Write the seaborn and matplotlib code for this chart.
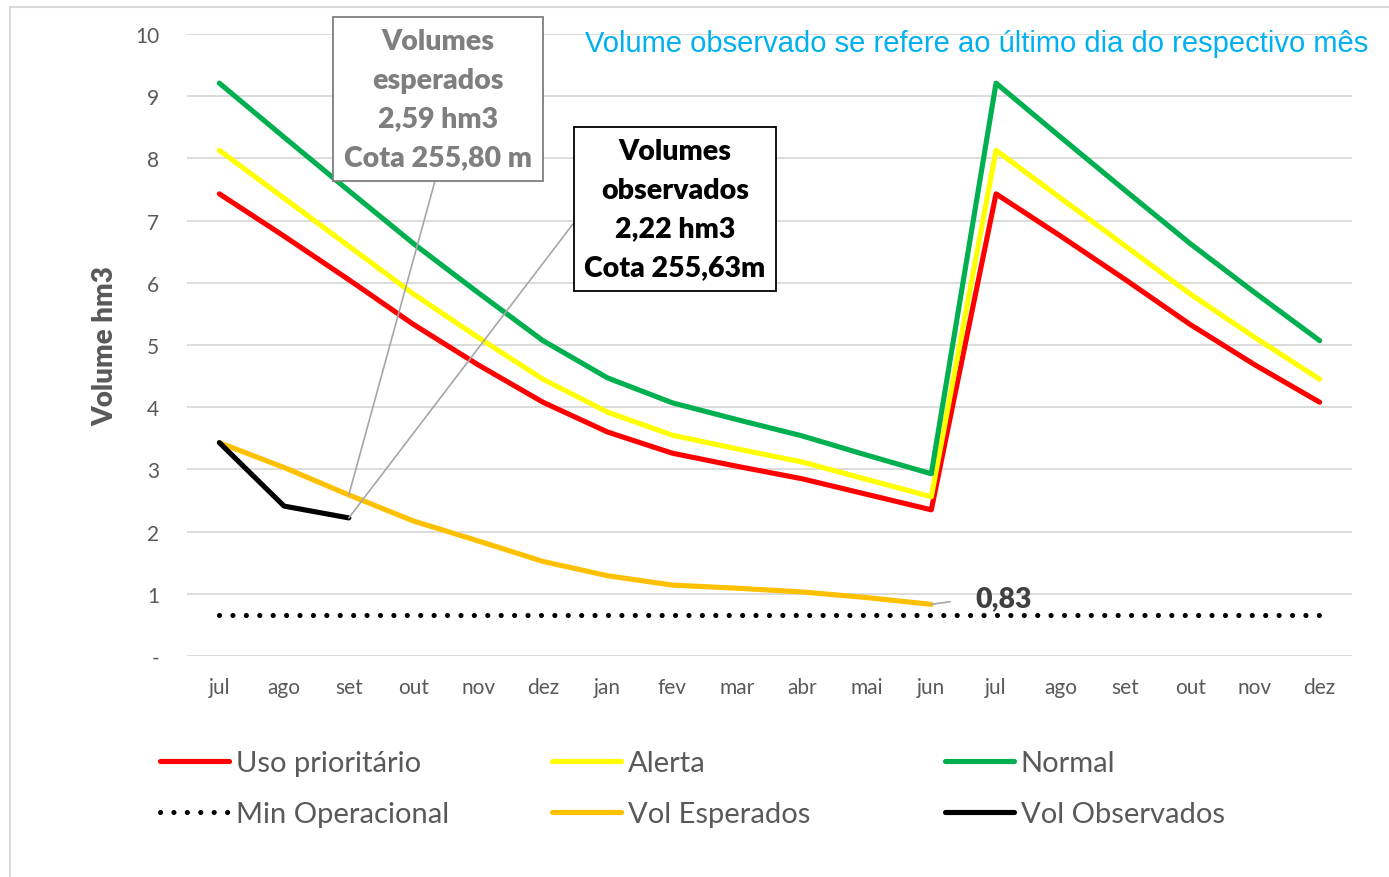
import matplotlib
matplotlib.use("Agg")
import matplotlib.pyplot as plt
from matplotlib.lines import Line2D
import numpy as np
import pandas as pd
import seaborn as sns

# month labels: two hydrological years (jul .. jun) plus a second jul .. dez
MONTHS = ['jul', 'ago', 'set', 'out', 'nov', 'dez', 'jan', 'fev', 'mar', 'abr', 'mai', 'jun',
          'jul', 'ago', 'set', 'out', 'nov', 'dez']

USO_PRIORITARIO = [7.43, 6.75, 6.05, 5.33, 4.68, 4.08, 3.60, 3.26, 3.05, 2.85, 2.60, 2.35,
                   7.43, 6.75, 6.05, 5.33, 4.68, 4.08]
ALERTA = [8.13, 7.36, 6.59, 5.82, 5.12, 4.45, 3.92, 3.55, 3.33, 3.12, 2.84, 2.56,
          8.13, 7.36, 6.59, 5.82, 5.12, 4.45]
NORMAL = [9.21, 8.34, 7.48, 6.63, 5.84, 5.07, 4.47, 4.07, 3.80, 3.54, 3.23, 2.93,
          9.21, 8.34, 7.48, 6.63, 5.84, 5.07]
MIN_OPERACIONAL = [0.66, 0.66, 0.66, 0.66, 0.66, 0.66, 0.66, 0.66, 0.66, 0.66, 0.66, 0.66,
                   0.66, 0.66, 0.66, 0.66, 0.66, 0.66]
VOL_ESPERADOS = [3.43, 3.03, 2.59, 2.17, 1.85, 1.52, 1.29, 1.14, 1.09, 1.03, 0.94, 0.83]
VOL_OBSERVADOS = [3.43, 2.41, 2.22]

ESPERADO_TXT = 'Volumes\nesperados\n2,59 hm3\nCota 255,80 m'
OBSERVADO_TXT = 'Volumes\nobservados\n2,22 hm3\nCota 255,63m'
NOTE_TXT = 'Volume observado se refere ao último dia do respectivo mês'

sns.set_style('white')
plt.rcParams['font.family'] = ['Lato', 'DejaVu Sans']

fig = plt.figure(figsize=(13.89, 8.78), dpi=100)
ax = fig.add_axes([187 / 1389, 1 - 657 / 878, (1352 - 187) / 1389, (657 - 35) / 878])

x_all = np.arange(len(MONTHS))

series = [
    ('Uso prioritário', USO_PRIORITARIO, '#FF0000', '-'),
    ('Alerta', ALERTA, '#FFFF00', '-'),
    ('Normal', NORMAL, '#00B050', '-'),
    ('Min Operacional', MIN_OPERACIONAL, '#000000', (0, (0.01, 2.6))),
    ('Vol Esperados', VOL_ESPERADOS, '#FFC000', '-'),
    ('Vol Observados', VOL_OBSERVADOS, '#000000', '-'),
]

handles = {}
for name, values, color, ls in series:
    df = pd.DataFrame({'x': x_all[:len(values)], 'v': values})
    sns.lineplot(data=df, x='x', y='v', ax=ax, color=color, lw=3.7, linestyle=ls,
                 solid_capstyle='round', dash_capstyle='round', solid_joinstyle='round')
    handles[name] = Line2D([], [], color=color, lw=3.7, linestyle=ls,
                           solid_capstyle='round', dash_capstyle='round')

ax.set_xlim(-0.5, len(MONTHS) - 0.5)
ax.set_ylim(0, 10)
ax.set_xticks(x_all)
ax.set_xticklabels(MONTHS)
ax.set_yticks(range(0, 11))
ax.set_yticklabels(['-'] + [str(i) for i in range(1, 11)])
ax.tick_params(axis='both', length=0, labelsize=15, labelcolor='#595959')
ax.tick_params(axis='y', pad=20)
ax.tick_params(axis='x', pad=15)
ax.set_xlabel('')
ax.set_ylabel('Volume hm3', fontsize=20, fontweight='heavy', color='#595959', labelpad=12)
ax.grid(True, axis='y', color='#D9D9D9', lw=1.3)
ax.set_axisbelow(True)
for s in ax.spines.values():
    s.set_visible(False)

# annotations
ax.annotate(ESPERADO_TXT, xy=(2, VOL_ESPERADOS[2]), xycoords='data',
            xytext=(438 / 1389, 1 - 100 / 878), textcoords='figure fraction',
            ha='center', va='center', fontsize=20.5, fontweight='heavy', color='#7F7F7F',
            linespacing=1.6,
            bbox=dict(boxstyle='square,pad=0.38', fc='white', ec='#7F7F7F', lw=1.3),
            arrowprops=dict(arrowstyle='-', color='#A6A6A6', lw=1.2, relpos=(0.5, 0),
                            shrinkA=0, shrinkB=0))
ax.annotate(OBSERVADO_TXT, xy=(2, VOL_OBSERVADOS[2]), xycoords='data',
            xytext=(675 / 1389, 1 - 210 / 878), textcoords='figure fraction',
            ha='center', va='center', fontsize=20.5, fontweight='heavy', color='black',
            linespacing=1.6,
            bbox=dict(boxstyle='square,pad=0.38', fc='white', ec='black', lw=1.3),
            arrowprops=dict(arrowstyle='-', color='#A6A6A6', lw=1.2, relpos=(0, 0.5),
                            shrinkA=0, shrinkB=0))
ax.annotate(f'{VOL_ESPERADOS[-1]:.2f}'.replace('.', ','), xy=(11, VOL_ESPERADOS[-1]),
            xytext=(12.12, 0.93), textcoords='data', ha='center', va='center',
            fontsize=20.5, fontweight='heavy', color='#404040',
            arrowprops=dict(arrowstyle='-', color='#A6A6A6', lw=1.2, relpos=(0, 0.5),
                            shrinkA=16, shrinkB=0))

fig.text(977 / 1389, 1 - 44 / 878, NOTE_TXT, ha='center', va='center', fontsize=21,
         color='#00B0F0', family=['Liberation Sans', 'DejaVu Sans'])

# legend in three columns
cols = [(['Uso prioritário', 'Min Operacional'], 160),
        (['Alerta', 'Vol Esperados'], 552),
        (['Normal', 'Vol Observados'], 945)]
for names, xpos in cols:
    leg = fig.legend([handles[n] for n in names], names, loc='upper left',
                     bbox_to_anchor=(xpos / 1389, 1 - 751 / 878), frameon=False,
                     fontsize=21, handlelength=2.35, handletextpad=0.25, labelspacing=0.85,
                     borderaxespad=0, borderpad=0)
    for t in leg.get_texts():
        t.set_color('#595959')

# outer chart frame (partially visible)
fig.add_artist(Line2D([10 / 1389, 10 / 1389], [0, 1 - 8 / 878], color='#D9D9D9', lw=1.5))
fig.add_artist(Line2D([10 / 1389, 1], [1 - 8 / 878, 1 - 8 / 878], color='#D9D9D9', lw=1.5))

fig.savefig('out.png', dpi=100)
